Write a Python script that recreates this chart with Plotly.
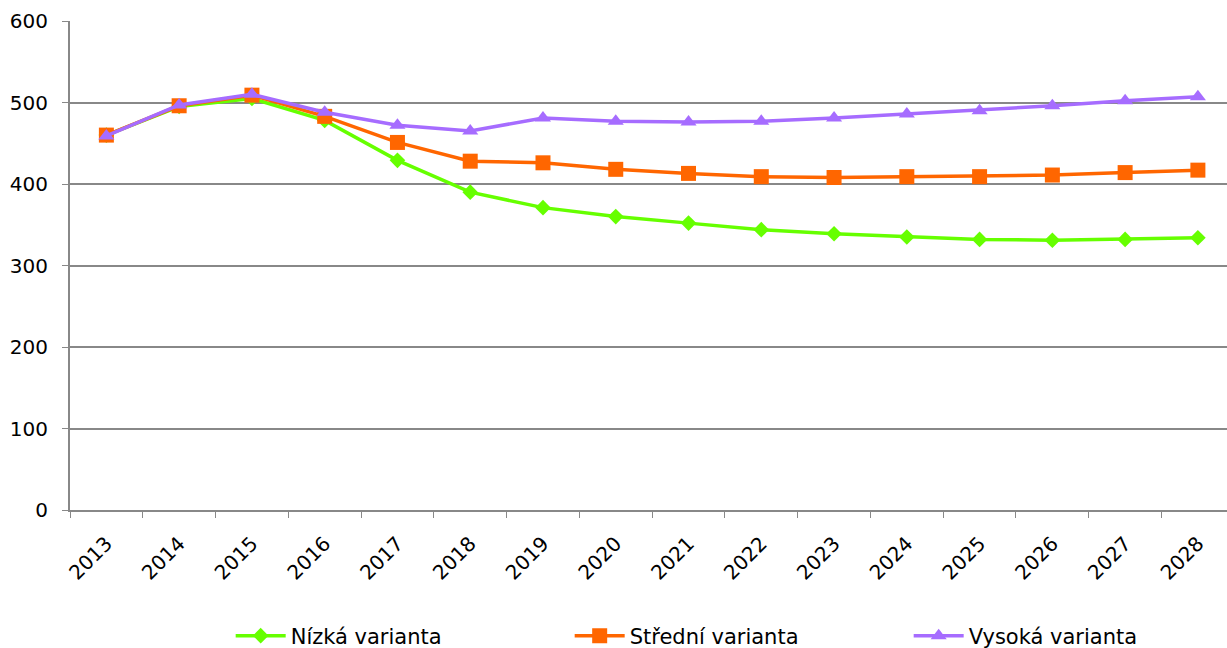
import plotly.graph_objects as go

years = [str(y) for y in range(2013, 2029)]
nizka = [460, 495, 505, 478, 429, 390, 371, 360, 352, 344, 339, 335, 332, 331, 332, 334]
stredni = [460, 496, 509, 483, 451, 428, 426, 418, 413, 409, 408, 409, 409, 411, 414, 417]
vysoka = [459, 497, 510, 488, 472, 465, 481, 477, 476, 477, 481, 486, 490, 496, 502, 507]

names = ["Nízká varianta", "Střední varianta", "Vysoká varianta"]
colors = ["#66FF00", "#FF6600", "#A66CFF"]
symbols = ["diamond", "square", "triangle-up"]
sizes = [12, 15, 14]

fig = go.Figure()
for vals, name, col, sym, sz in zip([nizka, stredni, vysoka], names, colors, symbols, sizes):
    fig.add_trace(go.Scatter(
        x=years, y=vals, name=name, mode="lines+markers",
        line=dict(color=col, width=3.5),
        marker=dict(symbol=sym, size=sz, color=col),
    ))

fig.update_layout(
    width=1227, height=648,
    margin=dict(l=70, r=0, t=21, b=138),
    plot_bgcolor="white", paper_bgcolor="white",
    font=dict(family="DejaVu Sans", size=20, color="#000000"),
    showlegend=True,
    legend=dict(orientation="h", xref="container", yref="container",
                x=0.188, xanchor="left", y=0.0185, yanchor="middle",
                entrywidth=274, entrywidthmode="pixels", itemwidth=50,
                font=dict(size=21)),
    xaxis=dict(
        type="category", range=[-0.5, 15.4], tickangle=-45, automargin=False,
        tickson="boundaries", ticks="outside", ticklen=6, tickcolor="#888888",
        ticklabelstandoff=12,
        showline=True, linecolor="#888888", linewidth=2, showgrid=False,
        tickfont=dict(size=20),
    ),
    yaxis=dict(
        range=[0, 600], tickvals=[0, 100, 200, 300, 400, 500, 600], automargin=False,
        ticks="outside", ticklen=6, tickcolor="#888888", ticklabelstandoff=10,
        showline=True, linecolor="#888888", linewidth=2,
        showgrid=True, gridcolor="#888888", gridwidth=2,
        zeroline=False, tickfont=dict(size=20),
    ),
)

fig.write_html("out.html", config={"displayModeBar": False},
               post_script="document.body.style.margin='0';document.body.style.overflow='hidden';")
